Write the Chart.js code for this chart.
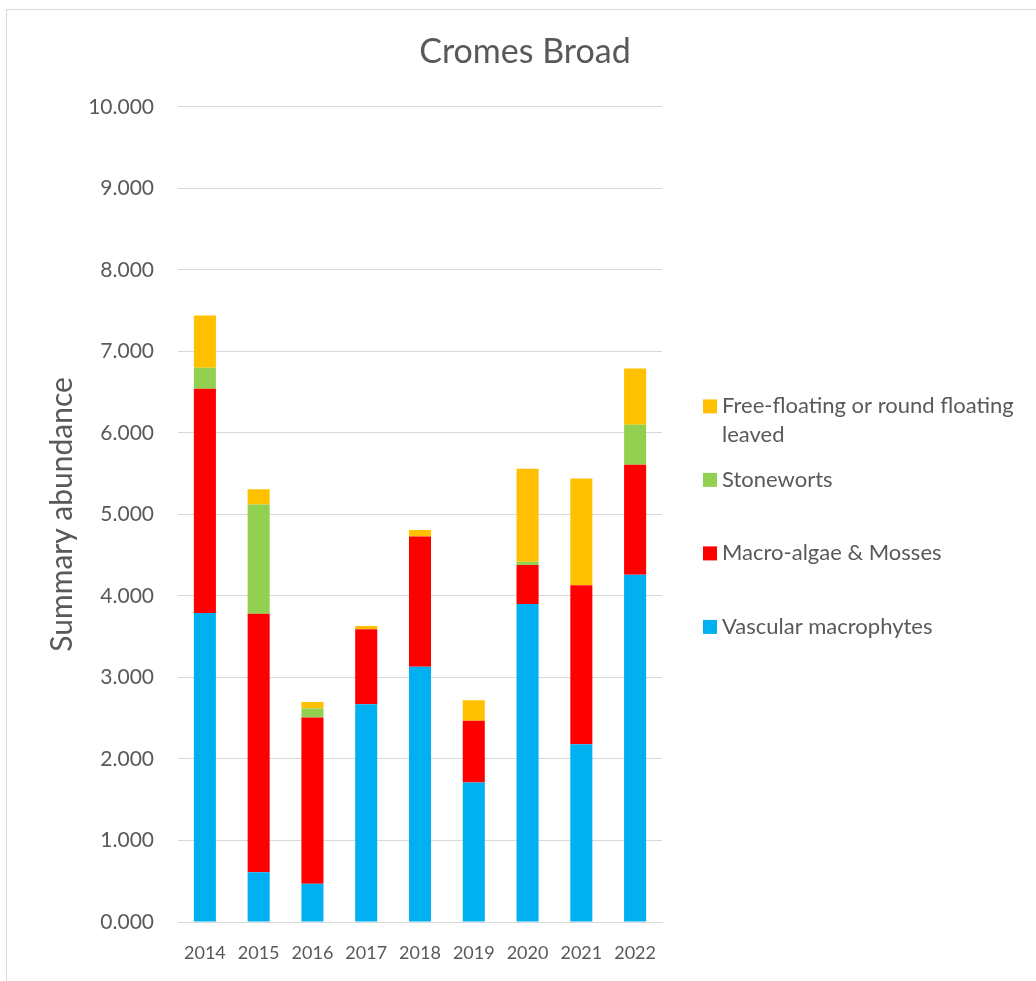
<!DOCTYPE html>
<html lang="en">
<head>
    <meta charset="UTF-8">
    <title>Cromes Broad</title>
    <style>
        body {
            margin: 0;
            background-color: #ffffff;
            overflow: hidden;
        }

        .frame {
            position: absolute;
            left: 6px;
            top: 9px;
            width: 1200px;
            height: 1200px;
            border: 1px solid #d9d9d9;
        }

        .chart-wrap {
            position: absolute;
            left: 0;
            top: 0;
            width: 1036px;
            height: 981px;
        }
    </style>
</head>
<body>
    <div class="frame"></div>
    <div class="chart-wrap">
        <canvas id="abundance-chart"></canvas>
    </div>

    <script src="https://cdn.jsdelivr.net/npm/chart.js"></script>
    <script>
        const years = ['2014', '2015', '2016', '2017', '2018', '2019', '2020', '2021', '2022'];
        const vascular = [3.79, 0.61, 0.47, 2.67, 3.13, 1.71, 3.90, 2.18, 4.26];
        const macroAlgae = [2.75, 3.17, 2.04, 0.92, 1.60, 0.76, 0.48, 1.95, 1.35];
        const stoneworts = [0.26, 1.34, 0.11, 0.00, 0.00, 0.00, 0.04, 0.00, 0.49];
        const freeFloating = [0.64, 0.19, 0.08, 0.04, 0.08, 0.25, 1.14, 1.31, 0.69];
        const yTicks = [0, 1, 2, 3, 4, 5, 6, 7, 8, 9, 10];

        const textColor = '#595959';
        const fontFamily = 'Lato, "Open Sans", sans-serif';

        // reserves the space on the right and draws the legend there (wrapped like the original)
        const sideLegend = {
            id: 'sideLegend',
            beforeInit(chart) {
                const box = {
                    position: 'right',
                    weight: 0,
                    fullSize: false,
                    options: {},
                    width: 0,
                    height: 0,
                    isHorizontal() { return false; },
                    update(maxWidth, maxHeight) {
                        this.width = 374;
                        this.height = maxHeight;
                    },
                    draw() {
                        const ctx = chart.ctx;
                        const area = chart.chartArea;
                        const boxX = area.right + 41;
                        const textX = boxX + 19;
                        const maxText = 300;
                        const midY = (area.top + area.bottom) / 2;
                        let y = midY - 108;

                        ctx.save();
                        ctx.font = '22px ' + fontFamily;
                        ctx.textBaseline = 'middle';
                        const sets = chart.data.datasets.slice().reverse();
                        sets.forEach(ds => {
                            ctx.fillStyle = ds.backgroundColor;
                            ctx.fillRect(boxX, y - 7, 14, 14);

                            // simple word wrap
                            const words = ds.label.split(' ');
                            const lines = [];
                            let line = '';
                            words.forEach(w => {
                                const test = line ? line + ' ' + w : w;
                                if (ctx.measureText(test).width > maxText && line) {
                                    lines.push(line);
                                    line = w;
                                } else {
                                    line = test;
                                }
                            });
                            lines.push(line);

                            ctx.fillStyle = textColor;
                            lines.forEach((l, i) => {
                                ctx.fillText(l, textX, y + i * 29);
                            });
                            y += 73.5;
                        });
                        ctx.restore();
                    }
                };
                Chart.layouts.addBox(chart, box);
            }
        };

        const ctx = document.getElementById('abundance-chart').getContext('2d');
        const abundanceChart = new Chart(ctx, {
            type: 'bar',
            data: {
                labels: years,
                datasets: [
                    { label: 'Vascular macrophytes', data: vascular, backgroundColor: '#00B0F0' },
                    { label: 'Macro-algae & Mosses', data: macroAlgae, backgroundColor: '#FF0000' },
                    { label: 'Stoneworts', data: stoneworts, backgroundColor: '#92D050' },
                    { label: 'Free-floating or round floating leaved', data: freeFloating, backgroundColor: '#FFC000' }
                ]
            },
            options: {
                responsive: true,
                maintainAspectRatio: false,
                animation: false,
                layout: {
                    padding: { left: 14, right: 0, top: 10, bottom: 0 }
                },
                datasets: {
                    bar: {
                        barPercentage: 0.41,
                        categoryPercentage: 1.0,
                        borderWidth: 0
                    }
                },
                scales: {
                    x: {
                        stacked: true,
                        afterFit(axis) { axis.height = 59; },
                        grid: { display: false, drawTicks: false },
                        border: { display: true, color: '#d9d9d9', width: 1 },
                        ticks: {
                            color: textColor,
                            padding: 20,
                            maxRotation: 0,
                            font: { family: fontFamily, size: 18 }
                        }
                    },
                    y: {
                        stacked: true,
                        min: 0,
                        max: 10,
                        afterFit(axis) { axis.width = 164; },
                        afterBuildTicks(axis) {
                            axis.ticks = yTicks.map(v => ({ value: v }));
                        },
                        grid: { color: '#d9d9d9', lineWidth: 1, drawTicks: false },
                        border: { display: false },
                        ticks: {
                            color: textColor,
                            padding: 24,
                            font: { family: fontFamily, size: 21 },
                            callback: value => value.toFixed(3)
                        },
                        title: {
                            display: true,
                            text: 'Summary abundance',
                            color: textColor,
                            font: { family: fontFamily, size: 30 },
                            padding: { top: 30, bottom: 0 }
                        }
                    }
                },
                plugins: {
                    legend: { display: false },
                    tooltip: { enabled: false },
                    title: {
                        display: true,
                        text: 'Cromes Broad',
                        color: textColor,
                        font: { family: fontFamily, size: 34, weight: 'normal' },
                        padding: { top: 22, bottom: 34 }
                    }
                }
            },
            plugins: [sideLegend]
        });
    </script>
</body>
</html>
